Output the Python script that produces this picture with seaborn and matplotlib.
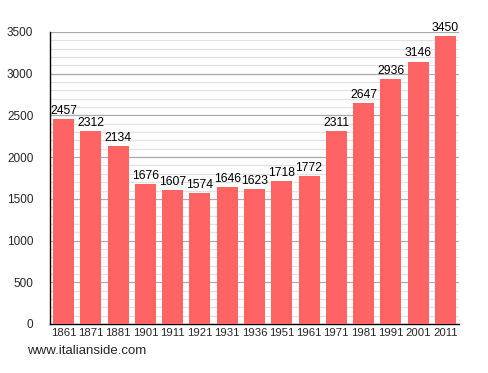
import matplotlib
matplotlib.use("Agg")
import matplotlib.pyplot as plt
import seaborn as sns
import pandas as pd
from matplotlib.ticker import MultipleLocator

years = ["1861", "1871", "1881", "1901", "1911", "1921", "1931", "1936",
         "1951", "1961", "1971", "1981", "1991", "2001", "2011"]
population = [2457, 2312, 2134, 1676, 1607, 1574, 1646, 1623,
              1718, 1772, 2311, 2647, 2936, 3146, 3450]
y_ticks = [0, 500, 1000, 1500, 2000, 2500, 3000, 3500]
source_text = "www.italianside.com"

df = pd.DataFrame({"year": years, "pop": population})

sns.set_style("white")
plt.rcParams["font.family"] = ["Liberation Sans", "DejaVu Sans"]

fig = plt.figure(figsize=(4.88, 3.73), dpi=100)
ax = fig.add_axes([50/488, 1-324/373, 409/488, (324-32)/373])

sns.barplot(data=df, x="year", y="pop", order=years, color="#ff6464",
            saturation=1, width=0.77, ax=ax, zorder=3, linewidth=0)

ax.set_ylim(0, 3500)
ax.set_xlim(-0.5, len(years) - 0.5)
ax.set_yticks(y_ticks)
ax.yaxis.set_minor_locator(MultipleLocator(100))
ax.grid(True, which="minor", axis="y", color="#e2e2e2", linewidth=0.9, zorder=0)
ax.grid(True, which="major", axis="y", color="#aaaaaa", linewidth=0.9, zorder=0)
ax.set_axisbelow(True)

for s in ["top", "right"]:
    ax.spines[s].set_visible(False)
for s in ["left", "bottom"]:
    ax.spines[s].set_color("black")
    ax.spines[s].set_linewidth(1.0)

ax.tick_params(axis="y", which="major", direction="out", length=5, width=0.8,
               color="black", labelsize=8.5, pad=7)
ax.tick_params(axis="y", which="minor", direction="out", length=5, width=0.8,
               color="black")
ax.tick_params(axis="x", which="both", length=0, labelsize=8.2, pad=3)
ax.set_xlabel("")
ax.set_ylabel("")

for i, v in enumerate(population):
    ax.text(i, v + 25, str(v), ha="center", va="bottom", fontsize=8.7, color="black")

fig.text(27/488, 1-351/373, source_text, fontsize=9.5, ha="left", va="center")

fig.savefig("out.png", dpi=100)
